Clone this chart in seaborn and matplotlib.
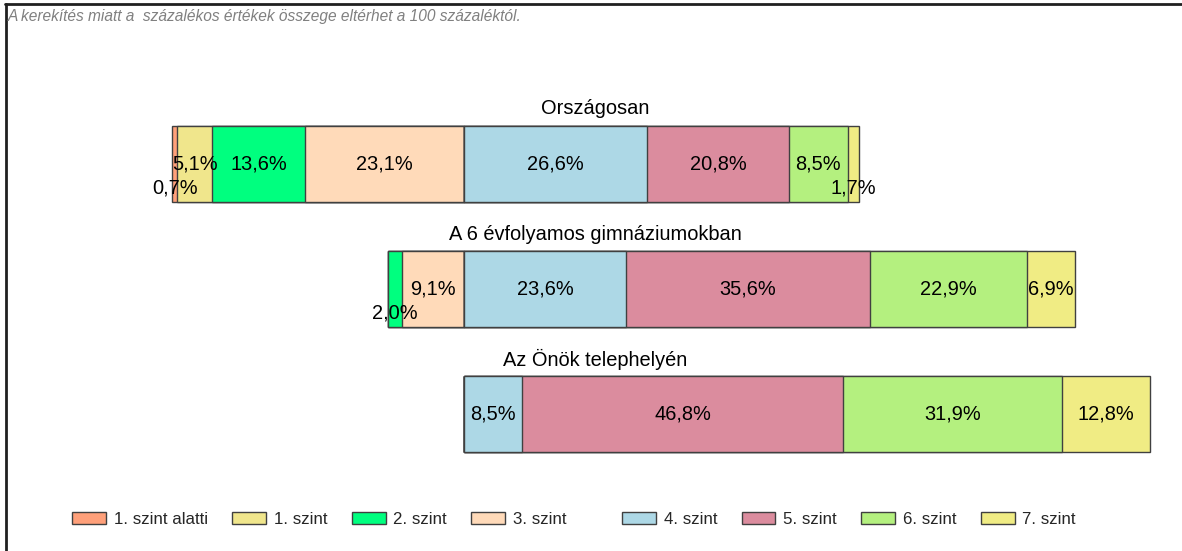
import numpy as np
import pandas as pd
import matplotlib
matplotlib.use("Agg")
import matplotlib.pyplot as plt
from matplotlib.patches import Patch
from matplotlib.lines import Line2D
import seaborn as sns

categories = ["Országosan", "A 6 évfolyamos gimnáziumokban", "Az Önök telephelyén"]
levels = ["1. szint alatti", "1. szint", "2. szint", "3. szint",
          "4. szint", "5. szint", "6. szint", "7. szint"]
szint_alatti = [0.7, 0.0, 0.0]
szint_1 = [5.1, 0.0, 0.0]
szint_2 = [13.6, 2.0, 0.0]
szint_3 = [23.1, 9.1, 0.0]
szint_4 = [26.6, 23.6, 8.5]
szint_5 = [20.8, 35.6, 46.8]
szint_6 = [8.5, 22.9, 31.9]
szint_7 = [1.7, 6.9, 12.8]
note = "A kerekítés miatt a  százalékos értékek összege eltérhet a 100 százaléktól."

colors = ["#FFA07A", "#F0E68C", "#00FF7F", "#FFDAB9",
          "#ADD8E6", "#DB8C9E", "#B4F07F", "#F0EC84"]
edge = "#404040"

sns.set_theme(style="white")
plt.rcParams["font.family"] = ["Liberation Sans", "DejaVu Sans"]

W, H = 1182, 551
fig = plt.figure(figsize=(W / 100, H / 100), dpi=100)
ax = fig.add_axes([0, 0, 1, 1])

vals = np.array([szint_alatti, szint_1, szint_2, szint_3,
                 szint_4, szint_5, szint_6, szint_7])  # shape (8, 3)

# left side: levels 0..3 drawn as negative cumulative (outermost first)
left_cum = {}
for k in range(4):
    left_cum[k] = -vals[k:4].sum(axis=0)
right_cum = {}
for k in range(4, 8):
    right_cum[k] = vals[4:k + 1].sum(axis=0)

draw_order = [0, 1, 2, 3, 7, 6, 5, 4]
for k in draw_order:
    cum = left_cum[k] if k < 4 else right_cum[k]
    df = pd.DataFrame({"kat": categories, "ertek": cum})
    sns.barplot(data=df, x="ertek", y="kat", orient="h", color=colors[k],
                saturation=1, edgecolor=edge, linewidth=1.0, width=0.61,
                ax=ax, errorbar=None)

# value labels
for i in range(3):
    start = -vals[:4, i].sum()
    for k in range(8):
        v = vals[k, i]
        if v > 0:
            cx = start + v / 2
            dy = 0.19 if v < 3 else 0.0
            ax.text(cx, i + dy, f"{v:.1f}".replace(".", ",") + "%",
                    ha="center", va="center", fontsize=14.4, color="black")
        start += v
    ax.text(19.1, i - 0.44, categories[i], ha="center", va="center",
            fontsize=14.4, color="black")

scale = 6.862
ax.set_xlim(-464 / scale, (W - 464) / scale)
ax.set_ylim((H - 164) / 125, -164 / 125)
ax.axis("off")

# note text
fig.text(8 / W, 1 - 16 / H, note, fontsize=11.2, style="italic",
         color="#808080", ha="left", va="center")

# frame lines (top and left)
fig.add_artist(Line2D([5 / W, 1], [1 - 4 / H, 1 - 4 / H], color="#202020",
                      linewidth=2, transform=fig.transFigure))
fig.add_artist(Line2D([6 / W, 6 / W], [0, 1 - 4 / H], color="#202020",
                      linewidth=2, transform=fig.transFigure))

handles = [Patch(facecolor=c, edgecolor=edge, linewidth=1.0) for c in colors]
leg_kw = dict(frameon=False, fontsize=12.2, handlelength=2.0, handleheight=0.72,
              handletextpad=0.45, columnspacing=1.45, borderpad=0,
              borderaxespad=0, loc="center left")
leg1 = fig.legend(handles[:4], levels[:4], ncol=4,
                  bbox_to_anchor=(72 / W, 1 - 519 / H), **leg_kw)
leg2 = fig.legend(handles[4:], levels[4:], ncol=4,
                  bbox_to_anchor=(622 / W, 1 - 519 / H), **leg_kw)

fig.savefig("out.png", dpi=100)
